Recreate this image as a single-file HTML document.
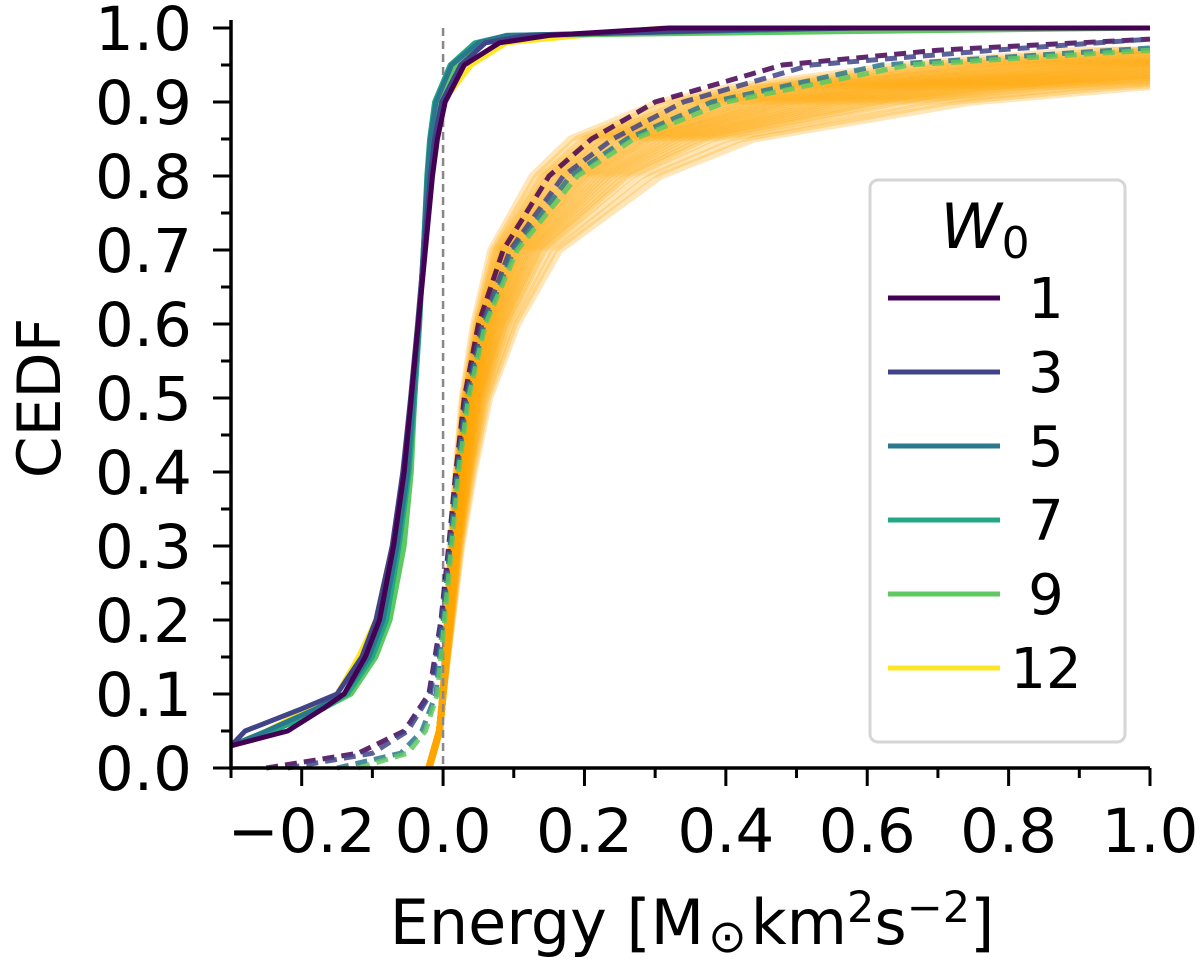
<!DOCTYPE html>
<html><head><meta charset="utf-8"><style>
html,body{margin:0;padding:0;background:#fff;}
svg{display:block;font-family:"DejaVu Sans","Liberation Sans",sans-serif;}
</style></head><body>
<svg id="chart" width="1200" height="964" viewBox="0 0 1200 964" xmlns="http://www.w3.org/2000/svg">
<g id="plot"></g>
<g id="axes"></g>
<text x="0" y="0" transform="translate(60,398) rotate(-90)" font-size="60" text-anchor="middle">CEDF</text>
<text x="692" y="944" font-size="62" text-anchor="middle">Energy [M<tspan font-size="46" dy="8" dx="4">⊙</tspan><tspan dy="-8" dx="4">km</tspan><tspan font-size="43" dy="-22">2</tspan><tspan dy="22">s</tspan><tspan font-size="43" dy="-22">−2</tspan><tspan dy="22">]</tspan></text>
<g id="legend">
<rect x="870" y="180" width="255" height="562" rx="8" fill="#fff" fill-opacity="0.85" stroke="#d6d6d6" stroke-width="3"/>
<text x="985" y="248" font-size="62" text-anchor="middle"><tspan font-style="italic">W</tspan><tspan font-size="44" dy="10">0</tspan></text>
</g>
</svg>
<script>
// data
const levels = [0.03,0.05,0.08,0.1,0.15,0.2,0.3,0.4,0.5,0.6,0.7,0.8,0.85,0.9,0.95,0.98,0.99,1.0];
const w0Labels = ["1","3","5","7","9","12"];
const w0Colors = ["#440154","#414487","#2a788e","#22a884","#5ec962","#fde725"];
const solidW1  = [-0.30,-0.22,-0.17,-0.14,-0.11,-0.09,-0.07,-0.055,-0.045,-0.035,-0.025,-0.015,-0.008,0.003,0.03,0.08,0.15,0.32];
const solidW3  = [-0.30,-0.28,-0.20,-0.15,-0.115,-0.095,-0.072,-0.057,-0.046,-0.036,-0.027,-0.018,-0.012,-0.002,0.025,0.06,0.12,0.50];
const solidW5  = [-0.30,-0.25,-0.18,-0.14,-0.105,-0.085,-0.065,-0.05,-0.042,-0.034,-0.028,-0.022,-0.018,-0.01,0.012,0.05,0.09,0.58];
const solidW7  = [-0.30,-0.24,-0.17,-0.135,-0.10,-0.08,-0.062,-0.048,-0.04,-0.033,-0.028,-0.023,-0.019,-0.012,0.01,0.045,0.09,0.58];
const solidW9  = [-0.30,-0.24,-0.17,-0.13,-0.095,-0.075,-0.055,-0.045,-0.04,-0.034,-0.028,-0.022,-0.017,-0.008,0.02,0.06,0.12,1.0];
const solidW12 = [-0.30,-0.25,-0.19,-0.15,-0.12,-0.095,-0.072,-0.056,-0.046,-0.036,-0.026,-0.016,-0.01,0.0,0.04,0.09,0.2,0.31];
const solidSeries = [solidW1,solidW3,solidW5,solidW7,solidW9,solidW12];
const dashLevels = [0.0,0.02,0.05,0.1,0.2,0.3,0.4,0.5,0.6,0.7,0.8,0.85,0.9,0.95,0.97,0.985];
const dashW1  = [-0.25,-0.12,-0.055,-0.02,-0.003,0.008,0.018,0.03,0.05,0.085,0.15,0.21,0.30,0.48,0.70,1.0];
const dashW3  = [-0.22,-0.10,-0.05,-0.018,-0.002,0.01,0.02,0.032,0.055,0.095,0.17,0.24,0.34,0.52,0.78,1.0];
const dashW5  = [-0.15,-0.06,-0.03,-0.01,0.0,0.01,0.02,0.034,0.058,0.10,0.18,0.26,0.38,0.62,0.95,1.2];
const dashW9  = [-0.12,-0.05,-0.025,-0.008,0.002,0.012,0.022,0.036,0.06,0.105,0.19,0.27,0.40,0.66,1.0,1.3];
const dashSeries = [dashW1,dashW3,dashW5,dashW9];
const dashColorIdx = [0,1,2,4];
const orangeLevels = [0.0,0.05,0.1,0.2,0.3,0.4,0.5,0.6,0.7,0.8,0.85,0.9,0.92,0.95,0.97];
const orangeBase   = [-0.02,-0.005,0.0,0.006,0.012,0.02,0.03,0.048,0.075,0.14,0.2,0.34,0.45,0.72,1.0];
const orangeStretch = [0.9,0.95,1.0,1.03,1.06,1.1,1.13,1.16,1.2,1.23,1.26,1.3,1.33,1.36,1.4,1.43,1.46,1.5,1.54,1.58,1.62,1.66,1.7,1.75,1.8,1.85,1.9,2.0,2.1,2.2];
const xTickLabels = ["−0.2","0.0","0.2","0.4","0.6","0.8","1.0"];
const xTickVals = [-0.2,0,0.2,0.4,0.6,0.8,1.0];
const yTickVals = [0,0.1,0.2,0.3,0.4,0.5,0.6,0.7,0.8,0.9,1.0];
const yTickLabels = ["0.0","0.1","0.2","0.3","0.4","0.5","0.6","0.7","0.8","0.9","1.0"];

const NS="http://www.w3.org/2000/svg";
const X0=231,X1=1150,Y0=768,Y1=28, xmin=-0.3,xmax=1.0;
const sx=v=>X0+(v-xmin)/(xmax-xmin)*(X1-X0);
const sy=v=>Y0-v*(Y0-Y1);
const plot=document.getElementById('plot'), axes=document.getElementById('axes'), legend=document.getElementById('legend');
function mk(tag,attrs,parent){const e=document.createElementNS(NS,tag);for(const k in attrs)e.setAttribute(k,attrs[k]);parent.appendChild(e);return e;}
function pts(xs,ys){const out=[];let last=null;
  for(let i=0;i<xs.length;i++){
    if(xs[i]>xmax){ if(i>0){const t=(xmax-xs[i-1])/(xs[i]-xs[i-1]);const yy=ys[i-1]+t*(ys[i]-ys[i-1]);out.push(sx(xmax).toFixed(1)+","+sy(yy).toFixed(1));} return out.join(" ");}
    const x=Math.max(xs[i],xmin);out.push(sx(x).toFixed(1)+","+sy(ys[i]).toFixed(1));last=ys[i];}
  if(xs[xs.length-1]<xmax) out.push(sx(xmax).toFixed(1)+","+sy(last).toFixed(1));return out.join(" ");}

orangeStretch.forEach((s,i)=>{
  const xs=orangeBase.map(v=>v>0?v*s:v);
  const p=mk('polyline',{points:pts(xs,orangeLevels),fill:'none',stroke:'#ffa500','stroke-width':7,'stroke-opacity':0.28,'stroke-linejoin':'round'},plot);
  
  
});
const zl=mk('line',{x1:sx(0),x2:sx(0),y1:Y1,y2:Y0,stroke:'#888','stroke-width':2.5,'stroke-dasharray':'8,5'},plot);


dashSeries.forEach((d,i)=>{
  const p=mk('polyline',{points:pts(d,dashLevels),fill:'none',stroke:w0Colors[dashColorIdx[i]],'stroke-width':5,'stroke-dasharray':'12,7','stroke-opacity':0.85},plot);
  
  
});
[5,4,3,2,1,0].forEach(i=>{
  const p=mk('polyline',{points:pts(solidSeries[i],levels),fill:'none',stroke:w0Colors[i],'stroke-width':5,'stroke-linejoin':'round'},plot);
  
  
});
const ls=mk('line',{x1:X0,x2:X0,y1:Y1-8,y2:Y0+2,stroke:'#000','stroke-width':3.5},axes);

const bs=mk('line',{x1:X0-2,x2:X1,y1:Y0,y2:Y0,stroke:'#000','stroke-width':3.5},axes);

for(let k=0;k<=20;k++){const v=k*0.05;const maj=k%2==0;
  const t=mk('line',{x1:X0,x2:X0-(maj?18:10),y1:sy(v),y2:sy(v),stroke:'#000','stroke-width':3},axes);
  }
yTickVals.forEach((v,i)=>{const t=mk('text',{x:192,y:sy(v)+22,'font-size':61,'text-anchor':'end'},axes);t.textContent=yTickLabels[i];
  });
for(let k=-3;k<=10;k++){const v=k/10;const maj=(k%2==0);
  const t=mk('line',{x1:sx(v),x2:sx(v),y1:Y0,y2:Y0+(maj?18:10),stroke:'#000','stroke-width':3},axes);
  }
xTickVals.forEach((v,i)=>{const t=mk('text',{x:sx(v),y:852,'font-size':61,'text-anchor':'middle'},axes);t.textContent=xTickLabels[i];
  });
w0Labels.forEach((l,i)=>{const y=298+i*74;
  const ln=mk('line',{x1:888,x2:1000,y1:y,y2:y,stroke:w0Colors[i],'stroke-width':5},legend);
  
  const t=mk('text',{x:1046,y:y+20,'font-size':56,'text-anchor':'middle'},legend);t.textContent=l;
  });
</script>
</body></html>
